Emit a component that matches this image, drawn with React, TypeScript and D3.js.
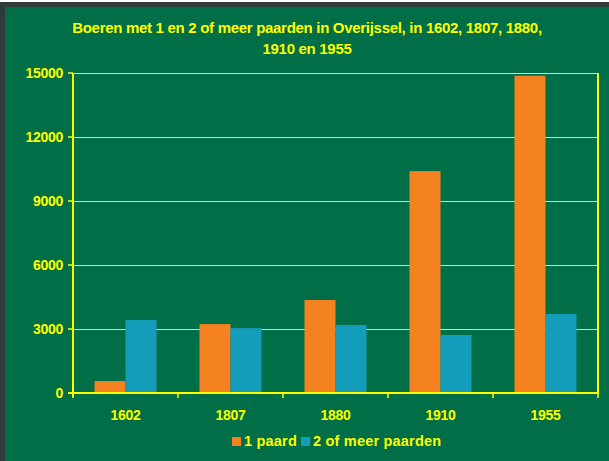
import React from "react";
import * as d3 from "d3";

const categories = ["1602", "1807", "1880", "1910", "1955"];
const series1Name = "1 paard";
const series2Name = "2 of meer paarden";
const series1 = [560, 3230, 4360, 10400, 14870];
const series2 = [3420, 3040, 3190, 2720, 3700];
const yTicks = [0, 3000, 6000, 9000, 12000, 15000];
const titleLines = [
  "Boeren met 1 en 2 of meer paarden in Overijssel, in 1602, 1807, 1880,",
  "1910 en 1955",
];

const W = 609;
const H = 461;
const GREEN = "#006E46";
const YELLOW = "#FFFF00";
const ORANGE = "#F58220";
const BLUE = "#139DBA";
const FONT = "'Liberation Sans', Arial, sans-serif";

export default function App() {
  const left = 73, right = 598, top = 73, bottom = 393;
  const x = d3.scaleBand<string>().domain(categories).range([left, right]);
  const y = d3.scaleLinear().domain([0, 15000]).range([bottom, top]);
  const barW = 31;
  const keys = [0, 1];
  const inner = d3.scaleBand<number>().domain(keys).range([0, barW * 2]);
  const seriesVals = [series1, series2];
  const colors = [ORANGE, BLUE];
  const bandEdges = [...categories.map((c) => x(c)!), right];

  return (
    <div style={{ position: "absolute", left: 0, top: 0 }}>
      <svg width={W} height={H} style={{ display: "block" }}>
        <rect x={0} y={0} width={W} height={H} fill="#ffffff" />
        <rect x={0} y={2} width={W} height={H - 2} fill="#2F3B3B" />
        <rect x={5} y={7} width={W - 5} height={H - 7} fill={GREEN} />
        {titleLines.map((t, i) => (
          <text
            key={i}
            x={307}
            y={33 + i * 21}
            textAnchor="middle"
            fill={YELLOW}
            fontFamily={FONT}
            fontWeight="bold"
            fontSize={15}
            letterSpacing={-0.3}
          >
            {t}
          </text>
        ))}
        {/* gridlines */}
        {yTicks.filter((t) => t > 0).map((t) => (
          <line key={t} x1={left} x2={right} y1={y(t) + 0.5} y2={y(t) + 0.5} stroke="#F2F200" strokeWidth={1} />
        ))}
        {/* bars */}
        {categories.map((c, ci) => {
          const x0 = x(c)! + (x.bandwidth() - barW * 2) / 2;
          return keys.map((k) => (
            <rect
              key={c + k}
              x={x0 + inner(k)!}
              y={y(seriesVals[k][ci])}
              width={inner.bandwidth()}
              height={bottom - y(seriesVals[k][ci])}
              fill={colors[k]}
            />
          ));
        })}
        {/* plot border right */}
        <line x1={right} x2={right} y1={top} y2={bottom} stroke={YELLOW} strokeWidth={2} />
        {/* y axis */}
        <line x1={left} x2={left} y1={top} y2={bottom + 4} stroke={YELLOW} strokeWidth={2} />
        {yTicks.map((t) => (
          <g key={t}>
            <line x1={left - 5} x2={left} y1={y(t)} y2={y(t)} stroke={YELLOW} strokeWidth={1.5} />
            <text
              x={63}
              y={y(t)}
              dy="0.36em"
              textAnchor="end"
              fill={YELLOW}
              fontFamily={FONT}
              fontWeight="bold"
              fontSize={14}
              letterSpacing={-0.3}
            >
              {t}
            </text>
          </g>
        ))}
        {/* x axis */}
        <line x1={left - 5} x2={right + 1} y1={bottom} y2={bottom} stroke={YELLOW} strokeWidth={2} />
        {bandEdges.map((e, i) => (
          <line key={i} x1={e} x2={e} y1={bottom} y2={bottom + 5} stroke={YELLOW} strokeWidth={1.5} />
        ))}
        {categories.map((c) => (
          <text
            key={c}
            x={x(c)! + x.bandwidth() / 2}
            y={420}
            textAnchor="middle"
            fill={YELLOW}
            fontFamily={FONT}
            fontWeight="bold"
            fontSize={14}
            letterSpacing={-0.3}
          >
            {c}
          </text>
        ))}
        {/* legend */}
        <rect x={232} y={437} width={9} height={9} fill={ORANGE} />
        <text x={244} y={446} fill={YELLOW} fontFamily={FONT} fontWeight="bold" fontSize={14.5} letterSpacing={0.2}>
          {series1Name}
        </text>
        <rect x={301} y={437} width={9} height={9} fill={BLUE} />
        <text x={313} y={446} fill={YELLOW} fontFamily={FONT} fontWeight="bold" fontSize={14.5} letterSpacing={0.2}>
          {series2Name}
        </text>
      </svg>
    </div>
  );
}
